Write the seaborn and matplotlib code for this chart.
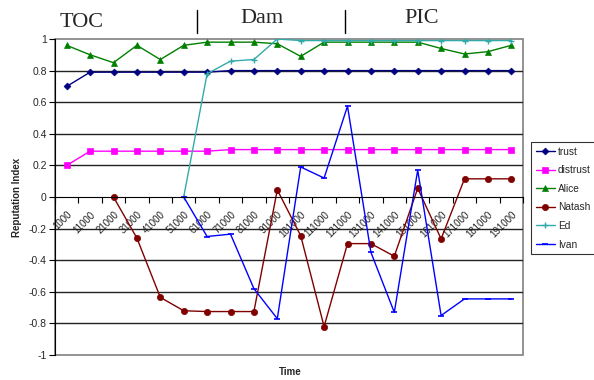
import numpy as np
import pandas as pd
import matplotlib
matplotlib.use('Agg')
import matplotlib.pyplot as plt
import seaborn as sns

# category labels along the time axis
time_labels = ['1000', '11000', '21000', '31000', '41000', '51000', '61000', '71000',
               '81000', '91000', '101000', '111000', '121000', '131000', '141000',
               '151000', '161000', '171000', '181000', '191000']

nan = np.nan
trust = [0.70, 0.79, 0.79, 0.79, 0.79, 0.79, 0.79, 0.80, 0.80, 0.80,
         0.80, 0.80, 0.80, 0.80, 0.80, 0.80, 0.80, 0.80, 0.80, 0.80]
distrust = [0.20, 0.29, 0.29, 0.29, 0.29, 0.29, 0.29, 0.30, 0.30, 0.30,
            0.30, 0.30, 0.30, 0.30, 0.30, 0.30, 0.30, 0.30, 0.30, 0.30]
alice = [0.96, 0.90, 0.85, 0.96, 0.87, 0.96, 0.98, 0.98, 0.98, 0.97,
         0.89, 0.98, 0.98, 0.98, 0.98, 0.98, 0.94, 0.905, 0.92, 0.96]
natasha = [nan, nan, 0.0, -0.26, -0.635, -0.72, -0.725, -0.725, -0.725, 0.045,
           -0.245, -0.82, -0.295, -0.295, -0.375, 0.055, -0.265, 0.115, 0.115, 0.115]
ed = [nan, nan, nan, nan, nan, 0.0, 0.78, 0.86, 0.87, 1.0,
      0.99, 0.99, 0.99, 0.99, 0.99, 0.99, 0.99, 0.99, 0.99, 0.99]
ivan = [nan, nan, nan, nan, nan, 0.0, -0.25, -0.235, -0.58, -0.77,
        0.19, 0.12, 0.575, -0.35, -0.73, 0.17, -0.75, -0.645, -0.645, -0.645]

series = {'trust': trust, 'distrust': distrust, 'Alice': alice,
          'Natash': natasha, 'Ed': ed, 'Ivan': ivan}
styles = {
    'trust': dict(color='#000080', marker='D', markersize=3.5),
    'distrust': dict(color='#FF00FF', marker='s', markersize=4.5),
    'Alice': dict(color='#008000', marker='^', markersize=5),
    'Natash': dict(color='#800000', marker='o', markersize=4.5),
    'Ed': dict(color='#33AAAA', marker='+', markersize=5, markeredgewidth=1),
    'Ivan': dict(color='#0000FF', marker='_', markersize=4, markeredgewidth=1.2),
}

sns.set_style('white')
plt.rcParams['font.family'] = ['Liberation Sans', 'DejaVu Sans']

fig = plt.figure(figsize=(5.94, 3.8), dpi=100)
ax = fig.add_axes([55 / 594, 1 - 355 / 380, 468 / 594, 316 / 380])

x = np.arange(len(time_labels))
for name, vals in series.items():
    df = pd.DataFrame({'x': x, 'y': vals}).dropna()
    st = styles[name]
    sns.lineplot(data=df, x='x', y='y', ax=ax, color=st['color'], linewidth=1,
                 marker=st['marker'], markersize=st['markersize'],
                 markeredgecolor=st['color'], markerfacecolor=st['color'],
                 markeredgewidth=st.get('markeredgewidth', 0.5), label=name, legend=False)

ax.set_xlim(-0.5, len(time_labels) - 0.5)
ax.set_ylim(-1, 1)
yt = np.round(np.arange(-1, 1.01, 0.2), 1)
ax.set_yticks(yt)
ax.set_yticklabels(['0' if v == 0 else ('%g' % v) for v in yt], fontsize=7.5)
for v in yt:
    if -1 < v < 1 and v != 0:
        ax.axhline(v, color='#222222', linewidth=1, zorder=0.5)

# x axis sits on the zero line, ticks on category boundaries
ax.spines['bottom'].set_position(('data', 0))
ax.spines['bottom'].set_color('black')
ax.spines['left'].set_color('black')
ax.spines['top'].set_visible(False)
ax.spines['right'].set_visible(False)
ax.patch.set_edgecolor('#808080')
ax.patch.set_linewidth(1.2)

ax.set_xticks(np.arange(-0.5, len(time_labels), 1))
ax.set_xticklabels([])
ax.set_xticks(x, minor=True)
ax.set_xticklabels(time_labels, minor=True, rotation=45, ha='right', va='top',
                   rotation_mode='anchor', fontsize=7, color='#222222')
ax.tick_params(axis='x', which='major', direction='out', length=4, width=0.8,
               bottom=True, color='black')
ax.tick_params(axis='x', which='minor', length=0, pad=9)
ax.tick_params(axis='y', direction='out', length=4, width=0.8, left=True,
               color='black', pad=2)
ax.set_xlabel('')
ax.set_ylabel('')

fig.text(17 / 594, 1 - 197 / 380, 'Reputation Index', rotation=90, ha='center',
         va='center', fontsize=7, fontweight='bold')
fig.text(290 / 594, 1 - 372 / 380, 'Time', ha='center', va='center',
         fontsize=7, fontweight='bold')

# phase annotations above the plot
fig.text(60 / 594, 1 - 27 / 380, 'TOC', family='Liberation Serif', fontsize=16,
         ha='left', va='baseline')
fig.text(240 / 594, 1 - 23 / 380, 'Dam', family='Liberation Serif', fontsize=16,
         ha='left', va='baseline')
fig.text(404 / 594, 1 - 23 / 380, 'PIC', family='Liberation Serif', fontsize=16,
         ha='left', va='baseline')
for xp in (197, 345):
    fig.add_artist(plt.Line2D([xp / 594, xp / 594], [1 - 10 / 380, 1 - 33 / 380],
                              color='black', linewidth=1))

handles, labels = ax.get_legend_handles_labels()
leg = fig.legend(handles, labels, loc='upper left',
                 bbox_to_anchor=(531 / 594, 1 - 142 / 380), fontsize=7.3,
                 frameon=True, fancybox=False, edgecolor='black',
                 handlelength=1.9, handletextpad=0.3, borderpad=0.45,
                 labelspacing=0.85, borderaxespad=0)
leg.get_frame().set_linewidth(0.8)

fig.savefig('out.png', dpi=100)
